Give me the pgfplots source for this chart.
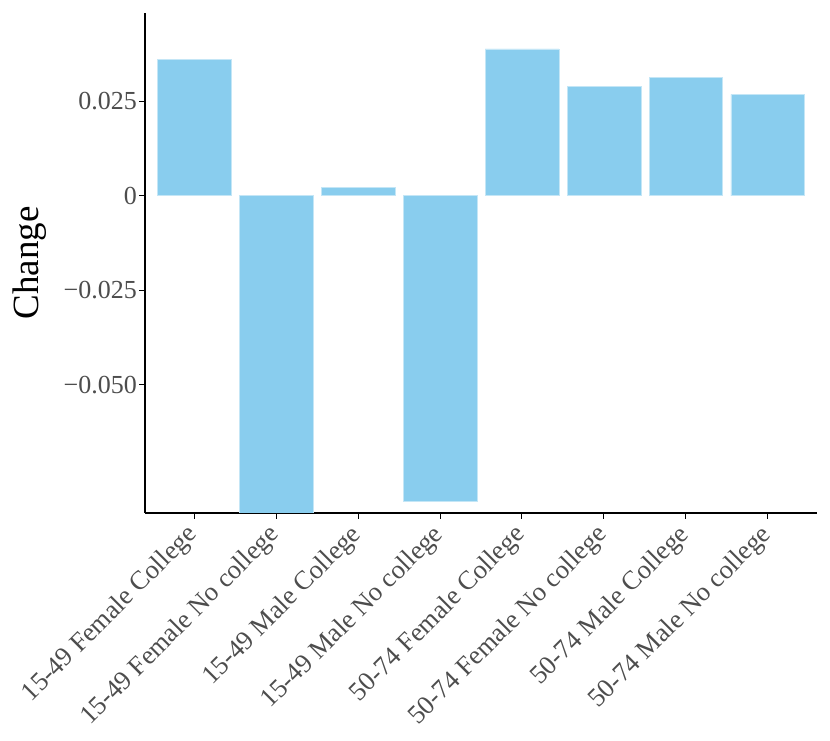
\documentclass[border=0pt]{standalone}
\usepackage{pgfplots}
\pgfplotsset{compat=1.18}
\usepackage{fontspec}
\setmainfont{Liberation Serif}
\definecolor{barblue}{RGB}{137,205,238}
\definecolor{tickgrey}{RGB}{77,77,77}
\begin{document}
\begin{tikzpicture}[x=1bp,y=1bp]
\useasboundingbox (0,0) rectangle (830,741);
\begin{axis}[
  at={(145bp,228bp)}, anchor=south west,
  scale only axis, width=672bp, height=500bp,
  xmin=0.4, xmax=8.6, ymin=-0.0840, ymax=0.0484,
  axis lines=left,
  axis line style={-, line width=1.2bp, black},
  tick style={black, line width=1bp},
  major tick length=6bp, tick align=outside,
  xtick={1,2,3,4,5,6,7,8},
  xticklabels={15-49 Female College,15-49 Female No college,15-49 Male College,15-49 Male No college,50-74 Female College,50-74 Female No college,50-74 Male College,50-74 Male No college},
  x tick label style={xshift=-9bp, yshift=-2bp, rotate=45, anchor=north east, inner sep=1bp, font=\fontsize{26.5bp}{30bp}\selectfont, text=tickgrey},
  ytick={-0.05,-0.025,0,0.025},
  yticklabels={−0.050,−0.025,0,0.025},
  y tick label style={inner sep=2bp, font=\fontsize{26bp}{30bp}\selectfont, text=tickgrey},
  ylabel={Change},
  ylabel style={at={(axis description cs:-0.1712,0.5)}, rotate=0, anchor=center, font=\fontsize{37bp}{40bp}\selectfont, text=black},
  clip=true,
]
\addplot[ybar, bar width=0.9, fill=barblue, draw=white!50!barblue, line width=0.6bp, bar shift=0pt] coordinates {
  (1,0.0362) (2,-0.0880) (3,0.0023) (4,-0.0808)
  (5,0.0389) (6,0.0289) (7,0.03125) (8,0.02685)
};
\end{axis}
\end{tikzpicture}
\end{document}
